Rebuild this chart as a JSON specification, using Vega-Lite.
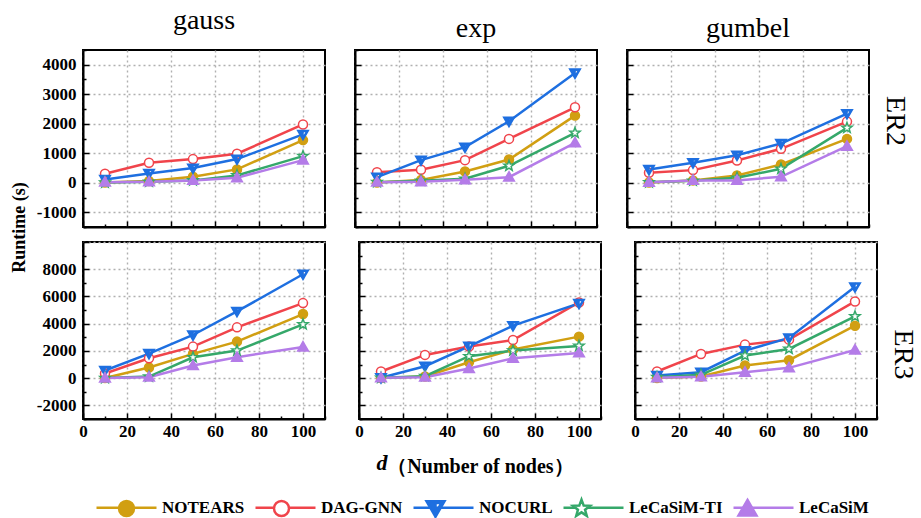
{
  "$schema": "https://vega.github.io/schema/vega-lite/v6.json",
  "padding": {"left": 11, "top": 6, "right": 5, "bottom": 5},
  "background": "white",
  "datasets": {
    "runs": [
      {"noise":"gauss","graph":"ER2","method":"NOTEARS","d":10,"runtime":10},
      {"noise":"gauss","graph":"ER2","method":"NOTEARS","d":30,"runtime":56},
      {"noise":"gauss","graph":"ER2","method":"NOTEARS","d":50,"runtime":203},
      {"noise":"gauss","graph":"ER2","method":"NOTEARS","d":70,"runtime":452},
      {"noise":"gauss","graph":"ER2","method":"NOTEARS","d":100,"runtime":1446},
      {"noise":"gauss","graph":"ER2","method":"DAG-GNN","d":10,"runtime":305},
      {"noise":"gauss","graph":"ER2","method":"DAG-GNN","d":30,"runtime":678},
      {"noise":"gauss","graph":"ER2","method":"DAG-GNN","d":50,"runtime":802},
      {"noise":"gauss","graph":"ER2","method":"DAG-GNN","d":70,"runtime":983},
      {"noise":"gauss","graph":"ER2","method":"DAG-GNN","d":100,"runtime":1977},
      {"noise":"gauss","graph":"ER2","method":"NOCURL","d":10,"runtime":113},
      {"noise":"gauss","graph":"ER2","method":"NOCURL","d":30,"runtime":316},
      {"noise":"gauss","graph":"ER2","method":"NOCURL","d":50,"runtime":497},
      {"noise":"gauss","graph":"ER2","method":"NOCURL","d":70,"runtime":802},
      {"noise":"gauss","graph":"ER2","method":"NOCURL","d":100,"runtime":1638},
      {"noise":"gauss","graph":"ER2","method":"LeCaSiM-TI","d":10,"runtime":5},
      {"noise":"gauss","graph":"ER2","method":"LeCaSiM-TI","d":30,"runtime":34},
      {"noise":"gauss","graph":"ER2","method":"LeCaSiM-TI","d":50,"runtime":80},
      {"noise":"gauss","graph":"ER2","method":"LeCaSiM-TI","d":70,"runtime":249},
      {"noise":"gauss","graph":"ER2","method":"LeCaSiM-TI","d":100,"runtime":904},
      {"noise":"gauss","graph":"ER2","method":"LeCaSiM","d":10,"runtime":20},
      {"noise":"gauss","graph":"ER2","method":"LeCaSiM","d":30,"runtime":30},
      {"noise":"gauss","graph":"ER2","method":"LeCaSiM","d":50,"runtime":80},
      {"noise":"gauss","graph":"ER2","method":"LeCaSiM","d":70,"runtime":170},
      {"noise":"gauss","graph":"ER2","method":"LeCaSiM","d":100,"runtime":768},

      {"noise":"exp","graph":"ER2","method":"NOTEARS","d":10,"runtime":5},
      {"noise":"exp","graph":"ER2","method":"NOTEARS","d":30,"runtime":90},
      {"noise":"exp","graph":"ER2","method":"NOTEARS","d":50,"runtime":383},
      {"noise":"exp","graph":"ER2","method":"NOTEARS","d":70,"runtime":789},
      {"noise":"exp","graph":"ER2","method":"NOTEARS","d":100,"runtime":2276},
      {"noise":"exp","graph":"ER2","method":"DAG-GNN","d":10,"runtime":360},
      {"noise":"exp","graph":"ER2","method":"DAG-GNN","d":30,"runtime":440},
      {"noise":"exp","graph":"ER2","method":"DAG-GNN","d":50,"runtime":766},
      {"noise":"exp","graph":"ER2","method":"DAG-GNN","d":70,"runtime":1487},
      {"noise":"exp","graph":"ER2","method":"DAG-GNN","d":100,"runtime":2558},
      {"noise":"exp","graph":"ER2","method":"NOCURL","d":10,"runtime":190},
      {"noise":"exp","graph":"ER2","method":"NOCURL","d":30,"runtime":766},
      {"noise":"exp","graph":"ER2","method":"NOCURL","d":50,"runtime":1206},
      {"noise":"exp","graph":"ER2","method":"NOCURL","d":70,"runtime":2084},
      {"noise":"exp","graph":"ER2","method":"NOCURL","d":100,"runtime":3718},
      {"noise":"exp","graph":"ER2","method":"LeCaSiM-TI","d":10,"runtime":20},
      {"noise":"exp","graph":"ER2","method":"LeCaSiM-TI","d":30,"runtime":68},
      {"noise":"exp","graph":"ER2","method":"LeCaSiM-TI","d":50,"runtime":135},
      {"noise":"exp","graph":"ER2","method":"LeCaSiM-TI","d":70,"runtime":575},
      {"noise":"exp","graph":"ER2","method":"LeCaSiM-TI","d":100,"runtime":1690},
      {"noise":"exp","graph":"ER2","method":"LeCaSiM","d":10,"runtime":20},
      {"noise":"exp","graph":"ER2","method":"LeCaSiM","d":30,"runtime":34},
      {"noise":"exp","graph":"ER2","method":"LeCaSiM","d":50,"runtime":100},
      {"noise":"exp","graph":"ER2","method":"LeCaSiM","d":70,"runtime":190},
      {"noise":"exp","graph":"ER2","method":"LeCaSiM","d":100,"runtime":1352},

      {"noise":"gumbel","graph":"ER2","method":"NOTEARS","d":10,"runtime":10},
      {"noise":"gumbel","graph":"ER2","method":"NOTEARS","d":30,"runtime":80},
      {"noise":"gumbel","graph":"ER2","method":"NOTEARS","d":50,"runtime":248},
      {"noise":"gumbel","graph":"ER2","method":"NOTEARS","d":70,"runtime":620},
      {"noise":"gumbel","graph":"ER2","method":"NOTEARS","d":100,"runtime":1487},
      {"noise":"gumbel","graph":"ER2","method":"DAG-GNN","d":10,"runtime":338},
      {"noise":"gumbel","graph":"ER2","method":"DAG-GNN","d":30,"runtime":428},
      {"noise":"gumbel","graph":"ER2","method":"DAG-GNN","d":50,"runtime":755},
      {"noise":"gumbel","graph":"ER2","method":"DAG-GNN","d":70,"runtime":1150},
      {"noise":"gumbel","graph":"ER2","method":"DAG-GNN","d":100,"runtime":2073},
      {"noise":"gumbel","graph":"ER2","method":"NOCURL","d":10,"runtime":450},
      {"noise":"gumbel","graph":"ER2","method":"NOCURL","d":30,"runtime":676},
      {"noise":"gumbel","graph":"ER2","method":"NOCURL","d":50,"runtime":935},
      {"noise":"gumbel","graph":"ER2","method":"NOCURL","d":70,"runtime":1330},
      {"noise":"gumbel","graph":"ER2","method":"NOCURL","d":100,"runtime":2343},
      {"noise":"gumbel","graph":"ER2","method":"LeCaSiM-TI","d":10,"runtime":15},
      {"noise":"gumbel","graph":"ER2","method":"LeCaSiM-TI","d":30,"runtime":68},
      {"noise":"gumbel","graph":"ER2","method":"LeCaSiM-TI","d":50,"runtime":170},
      {"noise":"gumbel","graph":"ER2","method":"LeCaSiM-TI","d":70,"runtime":473},
      {"noise":"gumbel","graph":"ER2","method":"LeCaSiM-TI","d":100,"runtime":1859},
      {"noise":"gumbel","graph":"ER2","method":"LeCaSiM","d":10,"runtime":15},
      {"noise":"gumbel","graph":"ER2","method":"LeCaSiM","d":30,"runtime":80},
      {"noise":"gumbel","graph":"ER2","method":"LeCaSiM","d":50,"runtime":80},
      {"noise":"gumbel","graph":"ER2","method":"LeCaSiM","d":70,"runtime":203},
      {"noise":"gumbel","graph":"ER2","method":"LeCaSiM","d":100,"runtime":1240},

      {"noise":"gauss","graph":"ER3","method":"NOTEARS","d":10,"runtime":10},
      {"noise":"gauss","graph":"ER3","method":"NOTEARS","d":30,"runtime":780},
      {"noise":"gauss","graph":"ER3","method":"NOTEARS","d":50,"runtime":1780},
      {"noise":"gauss","graph":"ER3","method":"NOTEARS","d":70,"runtime":2683},
      {"noise":"gauss","graph":"ER3","method":"NOTEARS","d":100,"runtime":4707},
      {"noise":"gauss","graph":"ER3","method":"DAG-GNN","d":10,"runtime":341},
      {"noise":"gauss","graph":"ER3","method":"DAG-GNN","d":30,"runtime":1463},
      {"noise":"gauss","graph":"ER3","method":"DAG-GNN","d":50,"runtime":2317},
      {"noise":"gauss","graph":"ER3","method":"DAG-GNN","d":70,"runtime":3732},
      {"noise":"gauss","graph":"ER3","method":"DAG-GNN","d":100,"runtime":5512},
      {"noise":"gauss","graph":"ER3","method":"NOCURL","d":10,"runtime":561},
      {"noise":"gauss","graph":"ER3","method":"NOCURL","d":30,"runtime":1805},
      {"noise":"gauss","graph":"ER3","method":"NOCURL","d":50,"runtime":3171},
      {"noise":"gauss","graph":"ER3","method":"NOCURL","d":70,"runtime":4902},
      {"noise":"gauss","graph":"ER3","method":"NOCURL","d":100,"runtime":7634},
      {"noise":"gauss","graph":"ER3","method":"LeCaSiM-TI","d":10,"runtime":10},
      {"noise":"gauss","graph":"ER3","method":"LeCaSiM-TI","d":30,"runtime":120},
      {"noise":"gauss","graph":"ER3","method":"LeCaSiM-TI","d":50,"runtime":1536},
      {"noise":"gauss","graph":"ER3","method":"LeCaSiM-TI","d":70,"runtime":2024},
      {"noise":"gauss","graph":"ER3","method":"LeCaSiM-TI","d":100,"runtime":3951},
      {"noise":"gauss","graph":"ER3","method":"LeCaSiM","d":10,"runtime":10},
      {"noise":"gauss","graph":"ER3","method":"LeCaSiM","d":30,"runtime":73},
      {"noise":"gauss","graph":"ER3","method":"LeCaSiM","d":50,"runtime":927},
      {"noise":"gauss","graph":"ER3","method":"LeCaSiM","d":70,"runtime":1536},
      {"noise":"gauss","graph":"ER3","method":"LeCaSiM","d":100,"runtime":2293},

      {"noise":"exp","graph":"ER3","method":"NOTEARS","d":10,"runtime":10},
      {"noise":"exp","graph":"ER3","method":"NOTEARS","d":30,"runtime":120},
      {"noise":"exp","graph":"ER3","method":"NOTEARS","d":50,"runtime":1171},
      {"noise":"exp","graph":"ER3","method":"NOTEARS","d":70,"runtime":2098},
      {"noise":"exp","graph":"ER3","method":"NOTEARS","d":100,"runtime":3049},
      {"noise":"exp","graph":"ER3","method":"DAG-GNN","d":10,"runtime":488},
      {"noise":"exp","graph":"ER3","method":"DAG-GNN","d":30,"runtime":1707},
      {"noise":"exp","graph":"ER3","method":"DAG-GNN","d":50,"runtime":2317},
      {"noise":"exp","graph":"ER3","method":"DAG-GNN","d":70,"runtime":2805},
      {"noise":"exp","graph":"ER3","method":"DAG-GNN","d":100,"runtime":5561},
      {"noise":"exp","graph":"ER3","method":"NOCURL","d":10,"runtime":24},
      {"noise":"exp","graph":"ER3","method":"NOCURL","d":30,"runtime":878},
      {"noise":"exp","graph":"ER3","method":"NOCURL","d":50,"runtime":2341},
      {"noise":"exp","graph":"ER3","method":"NOCURL","d":70,"runtime":3854},
      {"noise":"exp","graph":"ER3","method":"NOCURL","d":100,"runtime":5488},
      {"noise":"exp","graph":"ER3","method":"LeCaSiM-TI","d":10,"runtime":24},
      {"noise":"exp","graph":"ER3","method":"LeCaSiM-TI","d":30,"runtime":146},
      {"noise":"exp","graph":"ER3","method":"LeCaSiM-TI","d":50,"runtime":1610},
      {"noise":"exp","graph":"ER3","method":"LeCaSiM-TI","d":70,"runtime":2024},
      {"noise":"exp","graph":"ER3","method":"LeCaSiM-TI","d":100,"runtime":2366},
      {"noise":"exp","graph":"ER3","method":"LeCaSiM","d":10,"runtime":24},
      {"noise":"exp","graph":"ER3","method":"LeCaSiM","d":30,"runtime":73},
      {"noise":"exp","graph":"ER3","method":"LeCaSiM","d":50,"runtime":707},
      {"noise":"exp","graph":"ER3","method":"LeCaSiM","d":70,"runtime":1463},
      {"noise":"exp","graph":"ER3","method":"LeCaSiM","d":100,"runtime":1854},

      {"noise":"gumbel","graph":"ER3","method":"NOTEARS","d":10,"runtime":10},
      {"noise":"gumbel","graph":"ER3","method":"NOTEARS","d":30,"runtime":120},
      {"noise":"gumbel","graph":"ER3","method":"NOTEARS","d":50,"runtime":927},
      {"noise":"gumbel","graph":"ER3","method":"NOTEARS","d":70,"runtime":1317},
      {"noise":"gumbel","graph":"ER3","method":"NOTEARS","d":100,"runtime":3854},
      {"noise":"gumbel","graph":"ER3","method":"DAG-GNN","d":10,"runtime":488},
      {"noise":"gumbel","graph":"ER3","method":"DAG-GNN","d":30,"runtime":1780},
      {"noise":"gumbel","graph":"ER3","method":"DAG-GNN","d":50,"runtime":2463},
      {"noise":"gumbel","graph":"ER3","method":"DAG-GNN","d":70,"runtime":2829},
      {"noise":"gumbel","graph":"ER3","method":"DAG-GNN","d":100,"runtime":5634},
      {"noise":"gumbel","graph":"ER3","method":"NOCURL","d":10,"runtime":195},
      {"noise":"gumbel","graph":"ER3","method":"NOCURL","d":30,"runtime":439},
      {"noise":"gumbel","graph":"ER3","method":"NOCURL","d":50,"runtime":2024},
      {"noise":"gumbel","graph":"ER3","method":"NOCURL","d":70,"runtime":2951},
      {"noise":"gumbel","graph":"ER3","method":"NOCURL","d":100,"runtime":6707},
      {"noise":"gumbel","graph":"ER3","method":"LeCaSiM-TI","d":10,"runtime":73},
      {"noise":"gumbel","graph":"ER3","method":"LeCaSiM-TI","d":30,"runtime":244},
      {"noise":"gumbel","graph":"ER3","method":"LeCaSiM-TI","d":50,"runtime":1658},
      {"noise":"gumbel","graph":"ER3","method":"LeCaSiM-TI","d":70,"runtime":2146},
      {"noise":"gumbel","graph":"ER3","method":"LeCaSiM-TI","d":100,"runtime":4537},
      {"noise":"gumbel","graph":"ER3","method":"LeCaSiM","d":10,"runtime":24},
      {"noise":"gumbel","graph":"ER3","method":"LeCaSiM","d":30,"runtime":98},
      {"noise":"gumbel","graph":"ER3","method":"LeCaSiM","d":50,"runtime":439},
      {"noise":"gumbel","graph":"ER3","method":"LeCaSiM","d":70,"runtime":756},
      {"noise":"gumbel","graph":"ER3","method":"LeCaSiM","d":100,"runtime":2073}
    ]
  },
  "data": {"name": "runs"},
  "config": {
    "font": "Liberation Serif",
    "view": {"stroke": "black", "strokeWidth": 2},
    "axis": {
      "domainColor": "black", "domainWidth": 2,
      "tickColor": "black", "tickWidth": 1.5,
      "gridColor": "#b0b0b0", "gridDash": [2, 3], "gridWidth": 1.4,
      "labelFont": "Liberation Serif", "labelFontSize": 17, "labelFontWeight": "bold", "labelColor": "black",
      "titleFont": "Liberation Serif", "titleColor": "black"
    },
    "title": {"font": "Liberation Serif", "fontSize": 28, "fontWeight": "normal", "color": "black"},
    "legend": {
      "orient": "none", "legendX": 12, "legendY": 426, "direction": "horizontal",
      "symbolSize": 3600, "symbolStrokeWidth": 2.5,
      "labelFont": "Liberation Serif", "labelFontSize": 17, "labelFontWeight": "bold", "labelColor": "black",
      "labelOffset": 4, "columnPadding": 5
    }
  },
  "vconcat": [
    {
      "title": {"text": "Runtime (s)", "orient": "left", "anchor": "middle", "fontSize": 18, "fontWeight": "bold", "offset": 6, "dx": 14},
      "spacing": -4,
      "vconcat": [
        {
          "title": {"text": "ER2", "orient": "right", "anchor": "middle", "offset": 10},
          "spacing": 26,
          "hconcat": [
            {
              "width": 242, "height": 177,
              "title": {"text": "gauss", "offset": 6},
              "transform": [{"filter": "datum.noise === 'gauss' && datum.graph === 'ER2'"}],
              "encoding": {
                "x": {"field": "d", "type": "quantitative", "scale": {"domain": [0, 110], "nice": false, "zero": false},
                  "axis": {"values": [0,10,20,30,40,50,60,70,80,90,100,110], "labels": false, "title": null,
                    "tickSize": {"condition": {"test": "datum.value % 20 === 0", "value": -6}, "value": -3},
                    "gridOpacity": {"condition": {"test": "datum.value % 20 === 0", "value": 1}, "value": 0}}},
                "y": {"field": "runtime", "type": "quantitative", "scale": {"domain": [-1500, 4500], "nice": false, "zero": false},
                  "axis": {"values": [-1500,-1000,-500,0,500,1000,1500,2000,2500,3000,3500,4000,4500], "title": null,
                    "labelExpr": "datum.value % 1000 === 0 ? '' + datum.value : ''", "labelOverlap": false, "labelFlush": false, "labelPadding": 13,
                    "tickSize": {"condition": {"test": "datum.value % 1000 === 0", "value": -6}, "value": -3},
                    "gridOpacity": {"condition": {"test": "datum.value % 1000 === 0", "value": 1}, "value": 0}}}
              },
              "layer": [
                {"mark": {"type": "line", "strokeWidth": 2.5},
                 "encoding": {"color": {"field": "method", "type": "nominal", "sort": ["NOTEARS","DAG-GNN","NOCURL","LeCaSiM-TI","LeCaSiM"],
                   "scale": {"range": ["#d19f12","#f0444b","#1e6fe0","#35a86a","#b47ce8"]},
                   "legend": {"title": null, "symbolType": "stroke", "zindex": 1}}}},
                {"mark": {"type": "point", "filled": true, "size": 1296, "strokeWidth": 1.5, "opacity": 1},
                 "encoding": {
                   "shape": {"field": "method", "type": "nominal", "scale": {"domain": ["NOTEARS","DAG-GNN","NOCURL","LeCaSiM-TI","LeCaSiM"],
                     "range": ["M-0.25,0A0.25,0.25 0 1,0 0.25,0A0.25,0.25 0 1,0 -0.25,0Z","M-0.25,0A0.25,0.25 0 1,0 0.25,0A0.25,0.25 0 1,0 -0.25,0Z","M-0.3,-0.22L0.3,-0.22L0,0.3ZM0,-0.16L0,0.18L0.2,-0.16Z","M0,-0.3L0.073,-0.101L0.285,-0.093L0.119,0.039L0.176,0.243L0,0.125L-0.176,0.243L-0.119,0.039L-0.285,-0.093L-0.073,-0.101Z","M0,-0.3L0.3,0.22L-0.3,0.22Z"]},
                     "legend": {"title": null, "zindex": 2, "labelOpacity": 0}},
                   "fill": {"field": "method", "type": "nominal", "scale": {"domain": ["NOTEARS","DAG-GNN","NOCURL","LeCaSiM-TI","LeCaSiM"], "range": ["#d19f12","#ffffff","#1e6fe0","#ffffff","#b47ce8"]}},
                   "stroke": {"field": "method", "type": "nominal", "scale": {"domain": ["NOTEARS","DAG-GNN","NOCURL","LeCaSiM-TI","LeCaSiM"], "range": ["#d19f12","#f0444b","#1e6fe0","#35a86a","#b47ce8"]}}
                 }}
              ]
            },
            {
              "width": 242, "height": 177,
              "title": {"text": "exp", "offset": 6},
              "transform": [{"filter": "datum.noise === 'exp' && datum.graph === 'ER2'"}],
              "encoding": {
                "x": {"field": "d", "type": "quantitative", "scale": {"domain": [0, 110], "nice": false, "zero": false},
                  "axis": {"values": [0,10,20,30,40,50,60,70,80,90,100,110], "labels": false, "title": null,
                    "tickSize": {"condition": {"test": "datum.value % 20 === 0", "value": -6}, "value": -3},
                    "gridOpacity": {"condition": {"test": "datum.value % 20 === 0", "value": 1}, "value": 0}}},
                "y": {"field": "runtime", "type": "quantitative", "scale": {"domain": [-1500, 4500], "nice": false, "zero": false},
                  "axis": {"values": [-1500,-1000,-500,0,500,1000,1500,2000,2500,3000,3500,4000,4500], "title": null, "labels": false,
                    "tickSize": {"condition": {"test": "datum.value % 1000 === 0", "value": -6}, "value": -3},
                    "gridOpacity": {"condition": {"test": "datum.value % 1000 === 0", "value": 1}, "value": 0}}}
              },
              "layer": [
                {"mark": {"type": "line", "strokeWidth": 2.5},
                 "encoding": {"color": {"field": "method", "type": "nominal", "sort": ["NOTEARS","DAG-GNN","NOCURL","LeCaSiM-TI","LeCaSiM"],
                   "scale": {"range": ["#d19f12","#f0444b","#1e6fe0","#35a86a","#b47ce8"]},
                   "legend": {"title": null, "symbolType": "stroke", "zindex": 1}}}},
                {"mark": {"type": "point", "filled": true, "size": 1296, "strokeWidth": 1.5, "opacity": 1},
                 "encoding": {
                   "shape": {"field": "method", "type": "nominal", "scale": {"domain": ["NOTEARS","DAG-GNN","NOCURL","LeCaSiM-TI","LeCaSiM"],
                     "range": ["M-0.25,0A0.25,0.25 0 1,0 0.25,0A0.25,0.25 0 1,0 -0.25,0Z","M-0.25,0A0.25,0.25 0 1,0 0.25,0A0.25,0.25 0 1,0 -0.25,0Z","M-0.3,-0.22L0.3,-0.22L0,0.3ZM0,-0.16L0,0.18L0.2,-0.16Z","M0,-0.3L0.073,-0.101L0.285,-0.093L0.119,0.039L0.176,0.243L0,0.125L-0.176,0.243L-0.119,0.039L-0.285,-0.093L-0.073,-0.101Z","M0,-0.3L0.3,0.22L-0.3,0.22Z"]},
                     "legend": {"title": null, "zindex": 2, "labelOpacity": 0}},
                   "fill": {"field": "method", "type": "nominal", "scale": {"domain": ["NOTEARS","DAG-GNN","NOCURL","LeCaSiM-TI","LeCaSiM"], "range": ["#d19f12","#ffffff","#1e6fe0","#ffffff","#b47ce8"]}},
                   "stroke": {"field": "method", "type": "nominal", "scale": {"domain": ["NOTEARS","DAG-GNN","NOCURL","LeCaSiM-TI","LeCaSiM"], "range": ["#d19f12","#f0444b","#1e6fe0","#35a86a","#b47ce8"]}}
                 }}
              ]
            },
            {
              "width": 242, "height": 177,
              "title": {"text": "gumbel", "offset": 6},
              "transform": [{"filter": "datum.noise === 'gumbel' && datum.graph === 'ER2'"}],
              "encoding": {
                "x": {"field": "d", "type": "quantitative", "scale": {"domain": [0, 110], "nice": false, "zero": false},
                  "axis": {"values": [0,10,20,30,40,50,60,70,80,90,100,110], "labels": false, "title": null,
                    "tickSize": {"condition": {"test": "datum.value % 20 === 0", "value": -6}, "value": -3},
                    "gridOpacity": {"condition": {"test": "datum.value % 20 === 0", "value": 1}, "value": 0}}},
                "y": {"field": "runtime", "type": "quantitative", "scale": {"domain": [-1500, 4500], "nice": false, "zero": false},
                  "axis": {"values": [-1500,-1000,-500,0,500,1000,1500,2000,2500,3000,3500,4000,4500], "title": null, "labels": false,
                    "tickSize": {"condition": {"test": "datum.value % 1000 === 0", "value": -6}, "value": -3},
                    "gridOpacity": {"condition": {"test": "datum.value % 1000 === 0", "value": 1}, "value": 0}}}
              },
              "layer": [
                {"mark": {"type": "line", "strokeWidth": 2.5},
                 "encoding": {"color": {"field": "method", "type": "nominal", "sort": ["NOTEARS","DAG-GNN","NOCURL","LeCaSiM-TI","LeCaSiM"],
                   "scale": {"range": ["#d19f12","#f0444b","#1e6fe0","#35a86a","#b47ce8"]},
                   "legend": {"title": null, "symbolType": "stroke", "zindex": 1}}}},
                {"mark": {"type": "point", "filled": true, "size": 1296, "strokeWidth": 1.5, "opacity": 1},
                 "encoding": {
                   "shape": {"field": "method", "type": "nominal", "scale": {"domain": ["NOTEARS","DAG-GNN","NOCURL","LeCaSiM-TI","LeCaSiM"],
                     "range": ["M-0.25,0A0.25,0.25 0 1,0 0.25,0A0.25,0.25 0 1,0 -0.25,0Z","M-0.25,0A0.25,0.25 0 1,0 0.25,0A0.25,0.25 0 1,0 -0.25,0Z","M-0.3,-0.22L0.3,-0.22L0,0.3ZM0,-0.16L0,0.18L0.2,-0.16Z","M0,-0.3L0.073,-0.101L0.285,-0.093L0.119,0.039L0.176,0.243L0,0.125L-0.176,0.243L-0.119,0.039L-0.285,-0.093L-0.073,-0.101Z","M0,-0.3L0.3,0.22L-0.3,0.22Z"]},
                     "legend": {"title": null, "zindex": 2, "labelOpacity": 0}},
                   "fill": {"field": "method", "type": "nominal", "scale": {"domain": ["NOTEARS","DAG-GNN","NOCURL","LeCaSiM-TI","LeCaSiM"], "range": ["#d19f12","#ffffff","#1e6fe0","#ffffff","#b47ce8"]}},
                   "stroke": {"field": "method", "type": "nominal", "scale": {"domain": ["NOTEARS","DAG-GNN","NOCURL","LeCaSiM-TI","LeCaSiM"], "range": ["#d19f12","#f0444b","#1e6fe0","#35a86a","#b47ce8"]}}
                 }}
              ]
            }
          ]
        },
        {
          "title": {"text": "ER3", "orient": "right", "anchor": "middle", "offset": 10},
          "spacing": 26,
          "hconcat": [
            {
              "width": 242, "height": 177,
              "transform": [{"filter": "datum.noise === 'gauss' && datum.graph === 'ER3'"}],
              "encoding": {
                "x": {"field": "d", "type": "quantitative", "scale": {"domain": [0, 110], "nice": false, "zero": false},
                  "axis": {"values": [0,10,20,30,40,50,60,70,80,90,100,110], "title": null,
                    "labelExpr": "datum.value % 20 === 0 && datum.value <= 100 ? '' + datum.value : ''", "labelFlush": false, "labelOverlap": false, "labelPadding": 10,
                    "tickSize": {"condition": {"test": "datum.value % 20 === 0", "value": -6}, "value": -3},
                    "gridOpacity": {"condition": {"test": "datum.value % 20 === 0", "value": 1}, "value": 0}}},
                "y": {"field": "runtime", "type": "quantitative", "scale": {"domain": [-3000, 10000], "nice": false, "zero": false},
                  "axis": {"values": [-3000,-2000,-1000,0,1000,2000,3000,4000,5000,6000,7000,8000,9000,10000], "title": null,
                    "labelExpr": "datum.value % 2000 === 0 && datum.value < 10000 ? '' + datum.value : ''", "labelOverlap": false, "labelFlush": false, "labelPadding": 13,
                    "tickSize": {"condition": {"test": "datum.value % 2000 === 0", "value": -6}, "value": -3},
                    "gridOpacity": {"condition": {"test": "datum.value % 2000 === 0", "value": 1}, "value": 0}}}
              },
              "layer": [
                {"mark": {"type": "line", "strokeWidth": 2.5},
                 "encoding": {"color": {"field": "method", "type": "nominal", "sort": ["NOTEARS","DAG-GNN","NOCURL","LeCaSiM-TI","LeCaSiM"],
                   "scale": {"range": ["#d19f12","#f0444b","#1e6fe0","#35a86a","#b47ce8"]},
                   "legend": {"title": null, "symbolType": "stroke", "zindex": 1}}}},
                {"mark": {"type": "point", "filled": true, "size": 1296, "strokeWidth": 1.5, "opacity": 1},
                 "encoding": {
                   "shape": {"field": "method", "type": "nominal", "scale": {"domain": ["NOTEARS","DAG-GNN","NOCURL","LeCaSiM-TI","LeCaSiM"],
                     "range": ["M-0.25,0A0.25,0.25 0 1,0 0.25,0A0.25,0.25 0 1,0 -0.25,0Z","M-0.25,0A0.25,0.25 0 1,0 0.25,0A0.25,0.25 0 1,0 -0.25,0Z","M-0.3,-0.22L0.3,-0.22L0,0.3ZM0,-0.16L0,0.18L0.2,-0.16Z","M0,-0.3L0.073,-0.101L0.285,-0.093L0.119,0.039L0.176,0.243L0,0.125L-0.176,0.243L-0.119,0.039L-0.285,-0.093L-0.073,-0.101Z","M0,-0.3L0.3,0.22L-0.3,0.22Z"]},
                     "legend": {"title": null, "zindex": 2, "labelOpacity": 0}},
                   "fill": {"field": "method", "type": "nominal", "scale": {"domain": ["NOTEARS","DAG-GNN","NOCURL","LeCaSiM-TI","LeCaSiM"], "range": ["#d19f12","#ffffff","#1e6fe0","#ffffff","#b47ce8"]}},
                   "stroke": {"field": "method", "type": "nominal", "scale": {"domain": ["NOTEARS","DAG-GNN","NOCURL","LeCaSiM-TI","LeCaSiM"], "range": ["#d19f12","#f0444b","#1e6fe0","#35a86a","#b47ce8"]}}
                 }}
              ]
            },
            {
              "width": 242, "height": 177,
              "title": {"text": "d", "orient": "bottom", "anchor": "middle", "fontStyle": "italic", "fontWeight": "bold", "fontSize": 22, "dx": -98, "offset": -23},
              "transform": [{"filter": "datum.noise === 'exp' && datum.graph === 'ER3'"}],
              "encoding": {
                "x": {"field": "d", "type": "quantitative", "scale": {"domain": [0, 110], "nice": false, "zero": false},
                  "axis": {"values": [0,10,20,30,40,50,60,70,80,90,100,110], "title": "（Number of nodes）", "titleFontSize": 20, "titleFontWeight": "bold", "titlePadding": 14,
                    "labelExpr": "datum.value % 20 === 0 && datum.value <= 100 ? '' + datum.value : ''", "labelFlush": false, "labelOverlap": false, "labelPadding": 10,
                    "tickSize": {"condition": {"test": "datum.value % 20 === 0", "value": -6}, "value": -3},
                    "gridOpacity": {"condition": {"test": "datum.value % 20 === 0", "value": 1}, "value": 0}}},
                "y": {"field": "runtime", "type": "quantitative", "scale": {"domain": [-3000, 10000], "nice": false, "zero": false},
                  "axis": {"values": [-3000,-2000,-1000,0,1000,2000,3000,4000,5000,6000,7000,8000,9000,10000], "title": null, "labels": false,
                    "tickSize": {"condition": {"test": "datum.value % 2000 === 0", "value": -6}, "value": -3},
                    "gridOpacity": {"condition": {"test": "datum.value % 2000 === 0", "value": 1}, "value": 0}}}
              },
              "layer": [
                {"mark": {"type": "line", "strokeWidth": 2.5},
                 "encoding": {"color": {"field": "method", "type": "nominal", "sort": ["NOTEARS","DAG-GNN","NOCURL","LeCaSiM-TI","LeCaSiM"],
                   "scale": {"range": ["#d19f12","#f0444b","#1e6fe0","#35a86a","#b47ce8"]},
                   "legend": {"title": null, "symbolType": "stroke", "zindex": 1}}}},
                {"mark": {"type": "point", "filled": true, "size": 1296, "strokeWidth": 1.5, "opacity": 1},
                 "encoding": {
                   "shape": {"field": "method", "type": "nominal", "scale": {"domain": ["NOTEARS","DAG-GNN","NOCURL","LeCaSiM-TI","LeCaSiM"],
                     "range": ["M-0.25,0A0.25,0.25 0 1,0 0.25,0A0.25,0.25 0 1,0 -0.25,0Z","M-0.25,0A0.25,0.25 0 1,0 0.25,0A0.25,0.25 0 1,0 -0.25,0Z","M-0.3,-0.22L0.3,-0.22L0,0.3ZM0,-0.16L0,0.18L0.2,-0.16Z","M0,-0.3L0.073,-0.101L0.285,-0.093L0.119,0.039L0.176,0.243L0,0.125L-0.176,0.243L-0.119,0.039L-0.285,-0.093L-0.073,-0.101Z","M0,-0.3L0.3,0.22L-0.3,0.22Z"]},
                     "legend": {"title": null, "zindex": 2, "labelOpacity": 0}},
                   "fill": {"field": "method", "type": "nominal", "scale": {"domain": ["NOTEARS","DAG-GNN","NOCURL","LeCaSiM-TI","LeCaSiM"], "range": ["#d19f12","#ffffff","#1e6fe0","#ffffff","#b47ce8"]}},
                   "stroke": {"field": "method", "type": "nominal", "scale": {"domain": ["NOTEARS","DAG-GNN","NOCURL","LeCaSiM-TI","LeCaSiM"], "range": ["#d19f12","#f0444b","#1e6fe0","#35a86a","#b47ce8"]}}
                 }}
              ]
            },
            {
              "width": 242, "height": 177,
              "transform": [{"filter": "datum.noise === 'gumbel' && datum.graph === 'ER3'"}],
              "encoding": {
                "x": {"field": "d", "type": "quantitative", "scale": {"domain": [0, 110], "nice": false, "zero": false},
                  "axis": {"values": [0,10,20,30,40,50,60,70,80,90,100,110], "title": null,
                    "labelExpr": "datum.value % 20 === 0 && datum.value <= 100 ? '' + datum.value : ''", "labelFlush": false, "labelOverlap": false, "labelPadding": 10,
                    "tickSize": {"condition": {"test": "datum.value % 20 === 0", "value": -6}, "value": -3},
                    "gridOpacity": {"condition": {"test": "datum.value % 20 === 0", "value": 1}, "value": 0}}},
                "y": {"field": "runtime", "type": "quantitative", "scale": {"domain": [-3000, 10000], "nice": false, "zero": false},
                  "axis": {"values": [-3000,-2000,-1000,0,1000,2000,3000,4000,5000,6000,7000,8000,9000,10000], "title": null, "labels": false,
                    "tickSize": {"condition": {"test": "datum.value % 2000 === 0", "value": -6}, "value": -3},
                    "gridOpacity": {"condition": {"test": "datum.value % 2000 === 0", "value": 1}, "value": 0}}}
              },
              "layer": [
                {"mark": {"type": "line", "strokeWidth": 2.5},
                 "encoding": {"color": {"field": "method", "type": "nominal", "sort": ["NOTEARS","DAG-GNN","NOCURL","LeCaSiM-TI","LeCaSiM"],
                   "scale": {"range": ["#d19f12","#f0444b","#1e6fe0","#35a86a","#b47ce8"]},
                   "legend": {"title": null, "symbolType": "stroke", "zindex": 1}}}},
                {"mark": {"type": "point", "filled": true, "size": 1296, "strokeWidth": 1.5, "opacity": 1},
                 "encoding": {
                   "shape": {"field": "method", "type": "nominal", "scale": {"domain": ["NOTEARS","DAG-GNN","NOCURL","LeCaSiM-TI","LeCaSiM"],
                     "range": ["M-0.25,0A0.25,0.25 0 1,0 0.25,0A0.25,0.25 0 1,0 -0.25,0Z","M-0.25,0A0.25,0.25 0 1,0 0.25,0A0.25,0.25 0 1,0 -0.25,0Z","M-0.3,-0.22L0.3,-0.22L0,0.3ZM0,-0.16L0,0.18L0.2,-0.16Z","M0,-0.3L0.073,-0.101L0.285,-0.093L0.119,0.039L0.176,0.243L0,0.125L-0.176,0.243L-0.119,0.039L-0.285,-0.093L-0.073,-0.101Z","M0,-0.3L0.3,0.22L-0.3,0.22Z"]},
                     "legend": {"title": null, "zindex": 2, "labelOpacity": 0}},
                   "fill": {"field": "method", "type": "nominal", "scale": {"domain": ["NOTEARS","DAG-GNN","NOCURL","LeCaSiM-TI","LeCaSiM"], "range": ["#d19f12","#ffffff","#1e6fe0","#ffffff","#b47ce8"]}},
                   "stroke": {"field": "method", "type": "nominal", "scale": {"domain": ["NOTEARS","DAG-GNN","NOCURL","LeCaSiM-TI","LeCaSiM"], "range": ["#d19f12","#f0444b","#1e6fe0","#35a86a","#b47ce8"]}}
                 }}
              ]
            }
          ]
        }
      ]
    }
  ]
}
